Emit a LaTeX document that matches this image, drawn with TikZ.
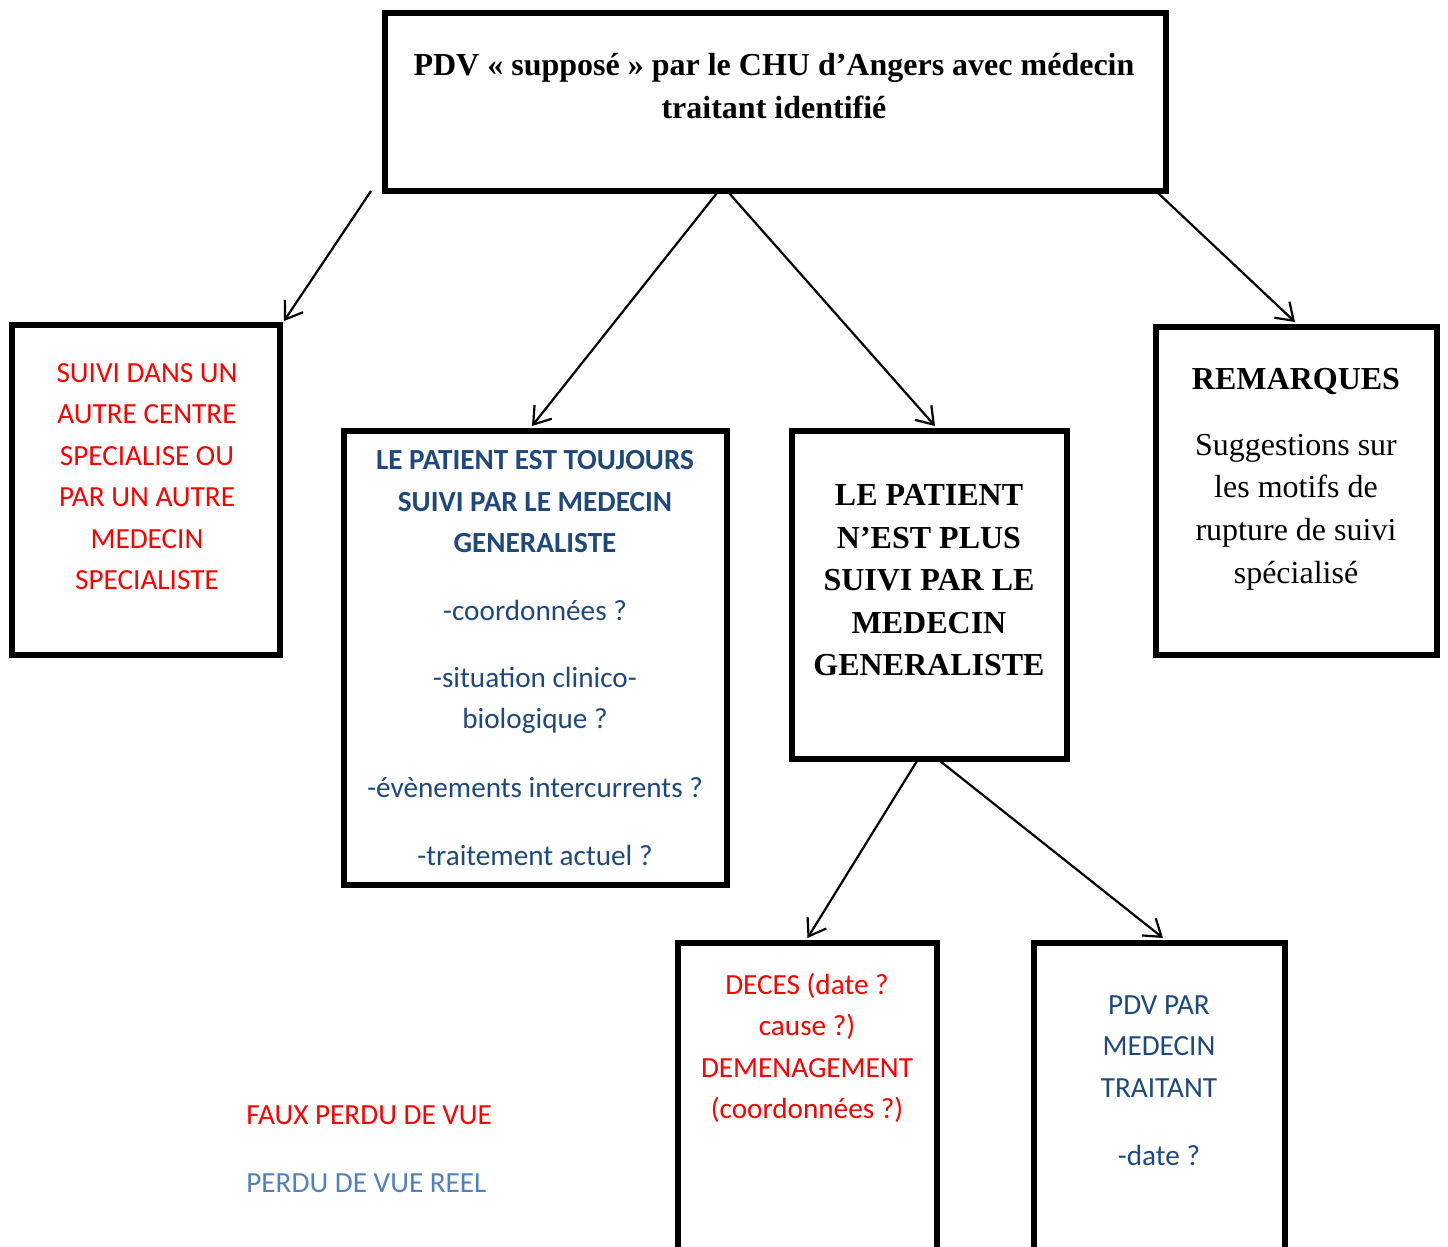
\documentclass[tikz,border=0pt]{standalone}
\usepackage{fontspec}
\setmainfont{Liberation Serif}
\newfontfamily\calibri{Carlito}
\usetikzlibrary{arrows.meta}
\definecolor{cred}{HTML}{FF0000}
\definecolor{cblue}{HTML}{1F497D}
\definecolor{lblue}{HTML}{4F81BD}
\begin{document}
\begin{tikzpicture}[x=0.5pt,y=-0.5pt,
  box/.style={draw,line width=2.7pt,inner sep=0pt,outer sep=0pt},
  openbox/.style={inner sep=0pt,outer sep=0pt},
  arr/.style={line width=1.1pt,-{Straight Barb[length=8pt,width=11pt,line width=1.1pt]}},
  tnr/.style={font=\fontsize{16}{21.3}\selectfont,align=center,anchor=base,inner sep=0pt},
  cal/.style={font=\calibri\fontsize{14.6}{20.7}\selectfont,align=center,anchor=base,inner sep=0pt},
]
\clip (0,0) rectangle (1448,1247);
\fill[white] (0,0) rectangle (1448,1247);

% boxes
\node[box,minimum width=390.5pt,minimum height=89pt] (top) at (775.5,102) {};
\node[box,minimum width=134pt,minimum height=165pt] (left) at (146,490) {};
\node[box,minimum width=191.5pt,minimum height=227pt] (mid) at (535.5,658) {};
\node[box,minimum width=137.5pt,minimum height=164pt] (ctr) at (929.5,595) {};
\node[box,minimum width=140.5pt,minimum height=164pt] (right) at (1296.5,491) {};
\node[openbox,minimum width=129.5pt,minimum height=163.5pt] (bl) at (807.5,1106.5) {};
\node[openbox,minimum width=125.5pt,minimum height=163.5pt] (br) at (1159.5,1106.5) {};
\draw[line width=2.7pt] (bl.south west) |- (bl.north east) -- (bl.south east);
\draw[line width=2.7pt] (br.south west) |- (br.north east) -- (br.south east);

% texts (base anchor = baseline of the last line)
\node[tnr,font=\bfseries\fontsize{16}{21.5}\selectfont] (ttop) at (774,119)
  {PDV « supposé » par le CHU d’Angers avec médecin\\traitant identifié};
\node[cal,text=cred] (tleft) at (147,589.5)
  {SUIVI DANS UN\\AUTRE CENTRE\\SPECIALISE OU\\PAR UN AUTRE\\MEDECIN\\SPECIALISTE};
\node[cal,text=cblue,font=\calibri\bfseries\fontsize{14.6}{20.7}\selectfont] (tmid1) at (535,552.5)
  {LE PATIENT EST TOUJOURS\\SUIVI PAR LE MEDECIN\\GENERALISTE};
\node[cal,text=cblue] (tmid2) at (535,620) {-coordonnées ?};
\node[cal,text=cblue] (tmid3) at (535,728.5) {-situation clinico-\\biologique ?};
\node[cal,text=cblue] (tmid4) at (535,797) {-évènements intercurrents ?};
\node[cal,text=cblue] (tmid5) at (535,865) {-traitement actuel ?};
\node[tnr,font=\bfseries\fontsize{16}{21.25}\selectfont] (tctr) at (929,675.5)
  {LE PATIENT\\N’EST PLUS\\SUIVI PAR LE\\MEDECIN\\GENERALISTE};
\node[tnr,font=\bfseries\fontsize{16}{21.3}\selectfont] (tright1) at (1296,389) {REMARQUES};
\node[tnr] (tright2) at (1296,583)
  {Suggestions sur\\les motifs de\\rupture de suivi\\spécialisé};
\node[cal,text=cred] (tbl) at (807,1118.7)
  {DECES (date ?\\cause ?)\\DEMENAGEMENT\\(coordonnées ?)};
\node[cal,text=cblue] (tbr1) at (1159,1097.3) {PDV PAR\\MEDECIN\\TRAITANT};
\node[cal,text=cblue] (tbr2) at (1159,1165) {-date ?};
\node[cal,text=cred,anchor=base west] (leg1) at (246,1124.5) {FAUX PERDU DE VUE};
\node[cal,text=lblue,anchor=base west] (leg2) at (246,1192.5) {PERDU DE VUE REEL};

% connectors
\coordinate (s1) at (371,191);
\draw[arr] (s1) -- ([xshift=2pt,yshift=2pt]left.north east);
\draw[arr] ([xshift=-29.25pt,yshift=-1pt]top.south) -- ([xshift=-1.75pt,yshift=2.5pt]mid.north);
\draw[arr] ([xshift=-23.25pt,yshift=-1pt]top.south) -- ([xshift=2.75pt,yshift=2.5pt]ctr.north);
\draw[arr] ([xshift=-4pt,yshift=-1pt]top.south east) -- ([xshift=-0.75pt,yshift=2.5pt]right.north);
\draw[arr] ([xshift=-6.25pt,yshift=-1pt]ctr.south) -- ([yshift=2.5pt]bl.north);
\draw[arr] ([xshift=5.25pt,yshift=-1pt]ctr.south) -- ([xshift=1.75pt,yshift=2.5pt]br.north);
\end{tikzpicture}
\end{document}
